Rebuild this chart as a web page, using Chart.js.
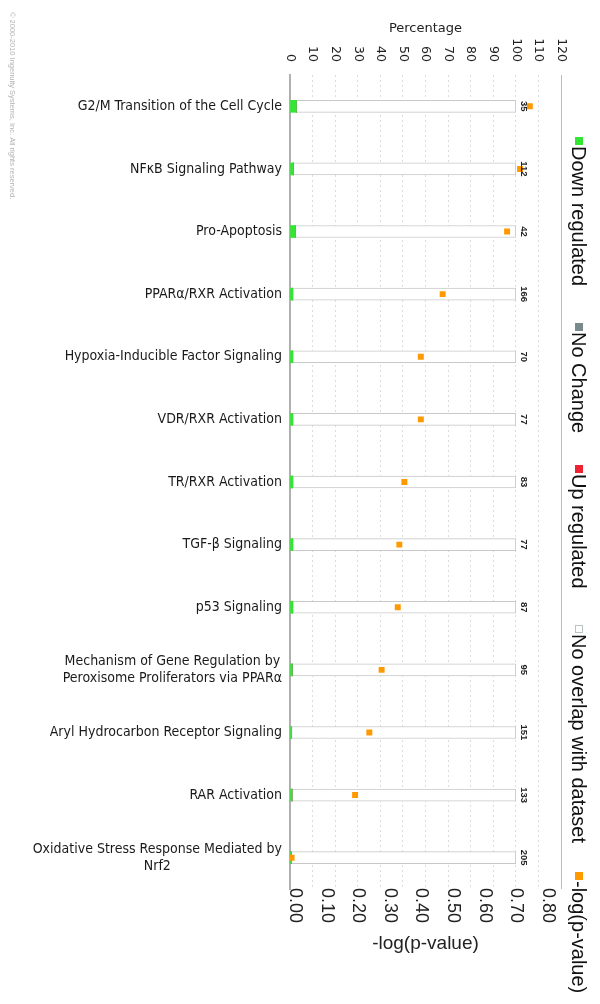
<!DOCTYPE html>
<html>
<head>
<meta charset="utf-8">
<script src="https://cdn.jsdelivr.net/npm/chart.js@4.4.1/dist/chart.umd.min.js"></script>
<style>
  html, body { margin: 0; padding: 0; background: #fff; }
</style>
</head>
<body>
<canvas id="grafico" width="600" height="1004"></canvas>
<script>
// dados
const categorias = [
    'G2/M Transition of the Cell Cycle',
    'NFκB Signaling Pathway',
    'Pro-Apoptosis',
    'PPARα/RXR Activation',
    'Hypoxia-Inducible Factor Signaling',
    'VDR/RXR Activation',
    'TR/RXR Activation',
    'TGF-β Signaling',
    'p53 Signaling',
    ['Mechanism of Gene Regulation by', 'Peroxisome Proliferators via PPARα'],
    'Aryl Hydrocarbon Receptor Signaling',
    'RAR Activation',
    ['Oxidative Stress Response Mediated by', 'Nrf2']
];
const downRegulated = [2.8, 1.5, 2.4, 1.2, 1.2, 1.2, 1.2, 1.2, 1.2, 1.0, 0.7, 0.9, 0.5];
const noChange = [0, 0, 0, 0, 0, 0, 0, 0, 0, 0, 0, 0, 0];
const upRegulated = [0, 0, 0, 0, 0, 0, 0, 0, 0, 0, 0, 0, 0];
const noOverlap = [97.2, 98.5, 97.6, 98.8, 98.8, 98.8, 98.8, 98.8, 98.8, 99.0, 99.3, 99.1, 99.5];
const negLogP = [0.759, 0.728, 0.687, 0.483, 0.414, 0.414, 0.362, 0.346, 0.341, 0.290, 0.251, 0.206, 0.005];
const totalGenes = [35, 112, 42, 166, 70, 77, 83, 77, 87, 95, 151, 133, 205];
const percentTicks = [0, 10, 20, 30, 40, 50, 60, 70, 80, 90, 100, 110, 120];
const pValueTicks = [0, 0.1, 0.2, 0.3, 0.4, 0.5, 0.6, 0.7, 0.8];

function textoGirado(ctx, texto, x, y, fonte, cor, align, baseline) {
    ctx.save();
    ctx.translate(x, y);
    ctx.rotate(Math.PI / 2);
    ctx.font = fonte;
    ctx.fillStyle = cor;
    ctx.textAlign = align;
    ctx.textBaseline = baseline;
    ctx.fillText(texto, 0, 0);
    ctx.restore();
}

// textos girados, rótulos das categorias e legenda
const textosPlugin = {
    id: 'textos',
    afterDraw(chart) {
        const ctx = chart.ctx;
        const xs = chart.scales.x;
        const x2 = chart.scales.x2;
        const ys = chart.scales.y;

        xs.ticks.forEach(t => {
            textoGirado(ctx, String(t.value), xs.getPixelForValue(t.value), 62,
                '12.5px "DejaVu Sans"', '#222', 'right', 'middle');
        });
        x2.ticks.forEach(t => {
            textoGirado(ctx, t.value.toFixed(2), x2.getPixelForValue(t.value), 888,
                '18px "Liberation Sans"', '#222', 'left', 'alphabetic');
        });

        // categorias (linhas centradas entre si, bloco alinhado à direita)
        ctx.save();
        ctx.font = '14px "DejaVu Sans Condensed", "DejaVu Sans"';
        ctx.fillStyle = '#1a1a1a';
        ctx.textAlign = 'center';
        ctx.textBaseline = 'middle';
        const direita = chart.chartArea.left - 8;
        categorias.forEach((cat, i) => {
            const linhas = Array.isArray(cat) ? cat : [cat];
            const largura = Math.max(...linhas.map(l => ctx.measureText(l).width));
            const yc = ys.getPixelForValue(i);
            linhas.forEach((l, k) => {
                ctx.fillText(l, direita - largura / 2, yc + (k - (linhas.length - 1) / 2) * 17);
            });
        });
        ctx.restore();

        // número de genes à direita das barras
        totalGenes.forEach((n, i) => {
            textoGirado(ctx, String(n), xs.getPixelForValue(100) + 8, ys.getPixelForValue(i),
                'bold 9.5px "Liberation Sans"', '#222', 'center', 'middle');
        });

        // legenda vertical
        const posLegenda = [137, 323, 465, 625, 872];
        chart.data.datasets.forEach((ds, i) => {
            const y0 = posLegenda[i];
            ctx.save();
            ctx.fillStyle = ds.legendColor;
            ctx.fillRect(575, y0, 8, 8);
            if (ds.legendBorder) {
                ctx.strokeStyle = ds.legendBorder;
                ctx.lineWidth = 1;
                ctx.strokeRect(575.5, y0 + 0.5, 7, 7);
            }
            ctx.restore();
            textoGirado(ctx, ds.label, 572, y0 + 9, '20px "Liberation Sans"', '#111', 'left', 'alphabetic');
        });

        textoGirado(ctx, '© 2000-2010 Ingenuity Systems, Inc. All rights reserved.', 10, 12,
            '7.5px "Liberation Sans"', '#b4b4b4', 'left', 'alphabetic');
    }
};

const ctx = document.getElementById('grafico').getContext('2d');
new Chart(ctx, {
    type: 'bar',
    data: {
        labels: categorias,
        datasets: [{
            label: 'Down regulated',
            data: downRegulated,
            backgroundColor: '#33e633',
            legendColor: '#33e633',
            borderWidth: 0,
            barThickness: 12,
            order: 1
        }, {
            label: 'No Change',
            data: noChange,
            backgroundColor: '#7a8a8a',
            legendColor: '#7a8a8a',
            borderWidth: 0,
            barThickness: 12,
            order: 1
        }, {
            label: 'Up regulated',
            data: upRegulated,
            backgroundColor: '#ee2233',
            legendColor: '#ee2233',
            borderWidth: 0,
            barThickness: 12,
            order: 1
        }, {
            label: 'No overlap with dataset',
            data: noOverlap,
            backgroundColor: '#ffffff',
            borderColor: '#c8c8c8',
            borderWidth: 1,
            borderSkipped: false,
            legendColor: '#ffffff',
            legendBorder: '#b8c4c4',
            barThickness: 12,
            order: 1
        }, {
            type: 'line',
            label: '-log(p-value)',
            data: negLogP,
            xAxisID: 'x2',
            showLine: false,
            pointStyle: 'rect',
            pointRadius: 4.2,
            pointBorderWidth: 0,
            backgroundColor: '#ff9900',
            borderColor: '#ff9900',
            legendColor: '#ff9900',
            order: 0
        }]
    },
    options: {
        indexAxis: 'y',
        responsive: false,
        animation: false,
        layout: {
            padding: { top: 0, left: 0, right: 39, bottom: 0 }
        },
        plugins: {
            legend: { display: false },
            tooltip: { enabled: false }
        },
        scales: {
            x: {
                position: 'top',
                min: 0,
                max: 120,
                stacked: true,
                afterBuildTicks: s => { s.ticks = percentTicks.map(v => ({ value: v })); },
                afterFit: s => { s.height = 75; },
                ticks: { display: false },
                grid: {
                    drawTicks: false,
                    color: c => (c.tick && (c.tick.value === 0 || c.tick.value === 120)) ? '#bcbcbc' : '#dcdcdc'
                },
                border: {
                    display: false,
                    dash: c => (c.tick && (c.tick.value === 0 || c.tick.value === 120)) ? [] : [2, 3]
                },
                title: {
                    display: true,
                    text: 'Percentage',
                    color: '#222',
                    font: { family: 'DejaVu Sans', size: 13 },
                    padding: { top: 21, bottom: 0 }
                }
            },
            x2: {
                position: 'bottom',
                min: 0,
                max: 0.8576,
                afterBuildTicks: s => { s.ticks = pValueTicks.map(v => ({ value: v })); },
                afterFit: s => { s.height = 115; },
                ticks: { display: false },
                grid: { display: false },
                border: { display: false },
                title: {
                    display: true,
                    text: '-log(p-value)',
                    color: '#222',
                    font: { family: 'Liberation Sans', size: 19 },
                    padding: { top: 0, bottom: 49 }
                }
            },
            y: {
                type: 'category',
                offset: true,
                stacked: true,
                afterFit: s => { s.width = 290; },
                ticks: { display: false },
                grid: { display: false },
                border: { display: true, color: '#b0b0b0', width: 2 }
            }
        }
    },
    plugins: [textosPlugin]
});
</script>
</body>
</html>
